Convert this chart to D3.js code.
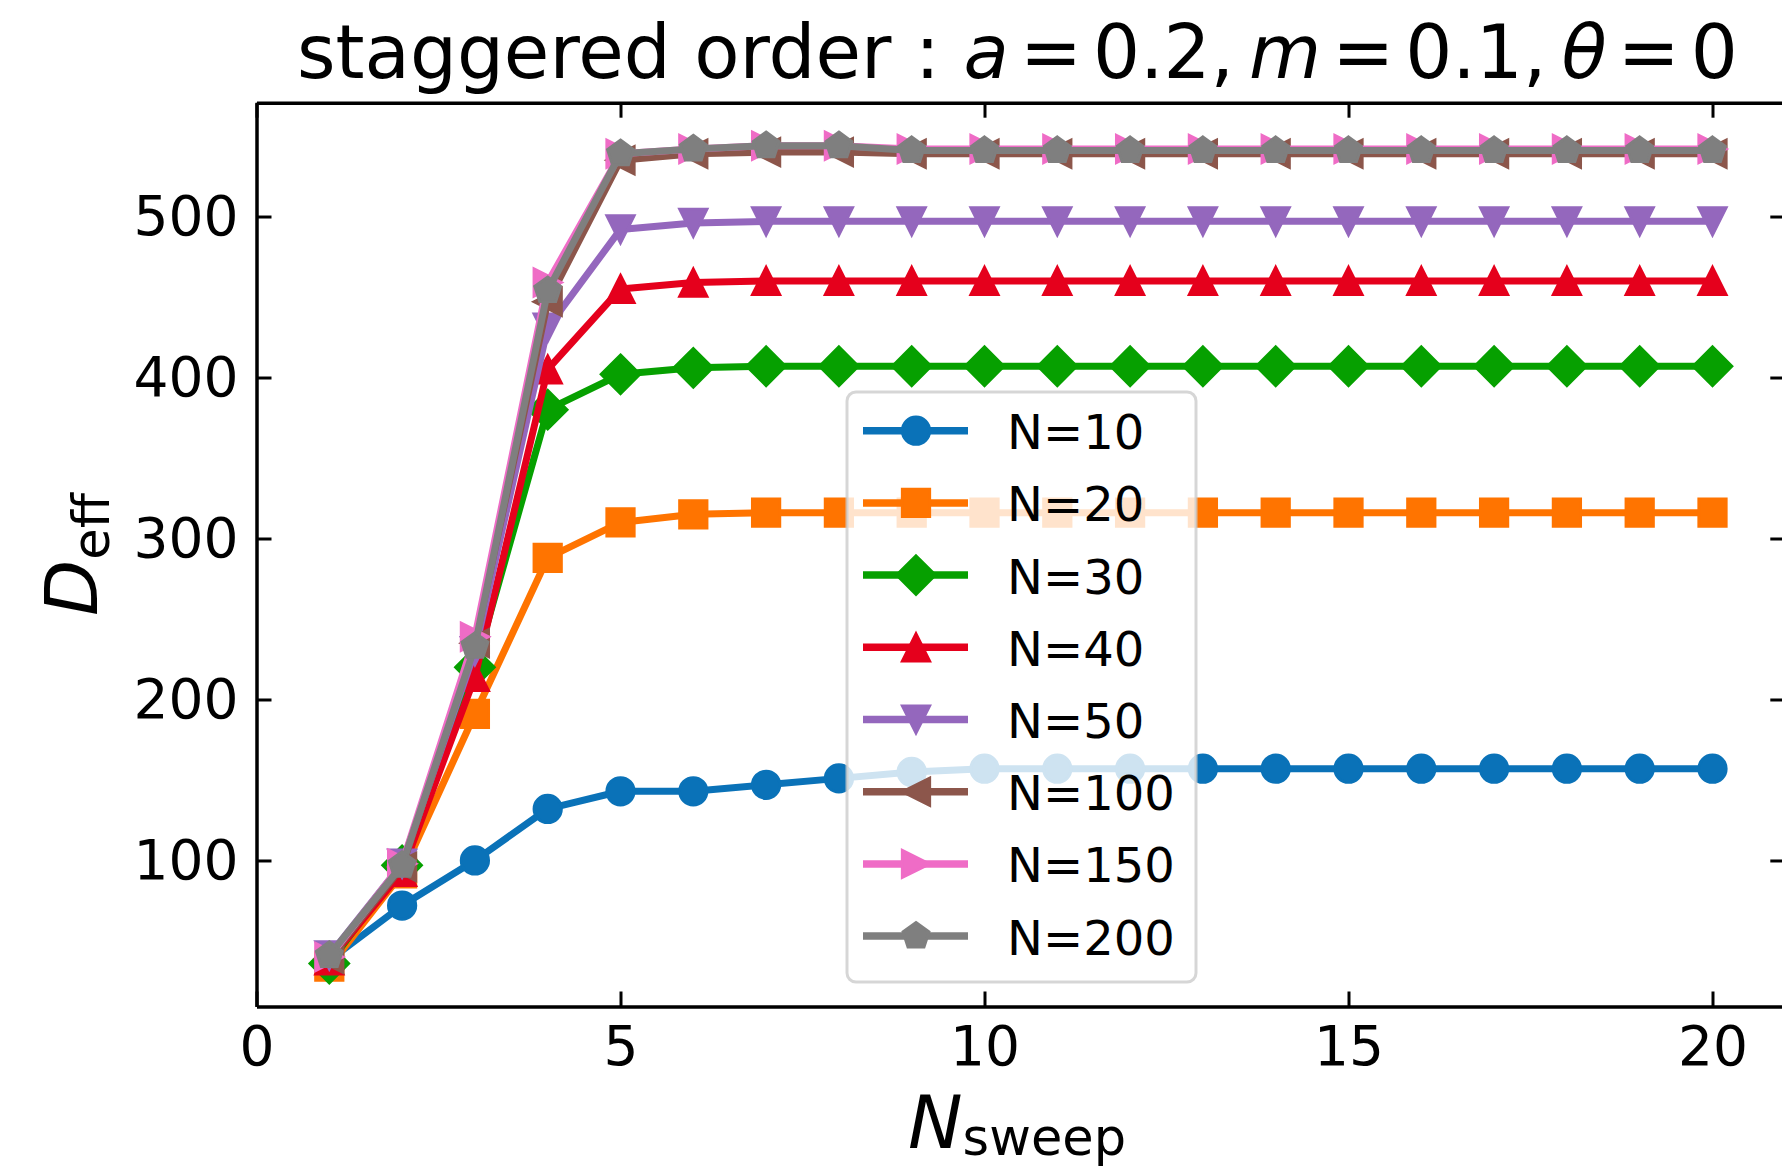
<!DOCTYPE html>
<html>
<head>
<meta charset="utf-8">
<script src="https://cdn.jsdelivr.net/npm/d3@7"></script>
<style>
  body { margin: 0; background: #fff; }
  svg { display: block; font-family: "DejaVu Sans", sans-serif; }
</style>
</head>
<body>
<div id="chart"></div>
<script>
// N_sweep values
const sweeps = d3.range(1, 21);

// D_eff for each system size
const n10  = [38, 72, 100, 132, 143, 143, 147, 151, 155, 157, 157, 157, 157, 157, 157, 157, 157, 157, 157, 157];
const n20  = [34, 92, 191, 288, 310, 315, 316, 316, 316, 316, 316, 316, 316, 316, 316, 316, 316, 316, 316, 316];
const n30  = [36, 97, 220, 380, 402, 406, 407, 407, 407, 407, 407, 407, 407, 407, 407, 407, 407, 407, 407, 407];
const n40  = [38, 93, 214, 405, 455, 459, 460, 460, 460, 460, 460, 460, 460, 460, 460, 460, 460, 460, 460, 460];
const n50  = [41, 98, 230, 431, 492, 496, 497, 497, 497, 497, 497, 497, 497, 497, 497, 497, 497, 497, 497, 497];
const n100 = [39, 96, 235, 447, 535, 539, 540, 540, 539, 539, 539, 539, 539, 539, 539, 539, 539, 539, 539, 539];
const n150 = [40, 98, 239, 459, 539, 542, 544, 544, 542, 542, 542, 542, 542, 542, 542, 542, 542, 542, 542, 542];
const n200 = [41, 97, 233, 454, 539, 542, 544, 544, 541, 541, 541, 541, 541, 541, 541, 541, 541, 541, 541, 541];

const labels  = ["N=10", "N=20", "N=30", "N=40", "N=50", "N=100", "N=150", "N=200"];
const colors  = ["#0a72b8", "#ff7400", "#06a000", "#e5001c", "#9467bd", "#8c564b", "#ef6cc6", "#7f7f7f"];
const markers = ["o", "s", "D", "^", "v", "<", ">", "p"];
const values  = [n10, n20, n30, n40, n50, n100, n150, n200];

const xTicks = [0, 5, 10, 15, 20];
const yTicks = [100, 200, 300, 400, 500];

const width = 1782, height = 1170;
const plotL = 256.5, plotT = 102.7, plotR = 1785.3, plotB = 1006.5;

const x = d3.scaleLinear().domain([0, 21]).range([plotL, plotR]);
const y = d3.scaleLinear().domain([9.3, 570.7]).range([plotB, plotT]);

// matplotlib-like marker outlines, s = marker size in px
function markerPath(type, s) {
  const h = s / 2;
  if (type === "o") {
    const p = d3.path();
    p.arc(0, 0, h, 0, 2 * Math.PI);
    return p.toString();
  }
  if (type === "s") return `M${-h},${-h}L${h},${-h}L${h},${h}L${-h},${h}Z`;
  if (type === "D") { const d = s * Math.SQRT1_2; return `M0,${-d}L${d},0L0,${d}L${-d},0Z`; }
  if (type === "^") return `M0,${-h}L${h},${h}L${-h},${h}Z`;
  if (type === "v") return `M0,${h}L${h},${-h}L${-h},${-h}Z`;
  if (type === "<") return `M${-h},0L${h},${-h}L${h},${h}Z`;
  if (type === ">") return `M${h},0L${-h},${-h}L${-h},${h}Z`;
  if (type === "p") {
    const pts = d3.range(5).map(k => {
      const a = -Math.PI / 2 + k * 2 * Math.PI / 5;
      return [h * Math.cos(a), h * Math.sin(a)];
    });
    return "M" + pts.map(p => p.join(",")).join("L") + "Z";
  }
}

const svg = d3.select("#chart").append("svg")
  .attr("width", width)
  .attr("height", height);

svg.append("rect").attr("width", width).attr("height", height).attr("fill", "#fff");

// series
const line = d3.line().x(d => x(d[0])).y(d => y(d[1]));
const msize = 27.5;

values.forEach((vals, i) => {
  const pts = sweeps.map((s, j) => [s, vals[j]]);
  const g = svg.append("g");
  g.append("path")
    .datum(pts)
    .attr("d", line)
    .attr("fill", "none")
    .attr("stroke", colors[i])
    .attr("stroke-width", 7)
    .attr("stroke-linejoin", "round");
  g.selectAll("path.m")
    .data(pts)
    .enter().append("path")
    .attr("class", "m")
    .attr("transform", d => `translate(${x(d[0])},${y(d[1])})`)
    .attr("d", markerPath(markers[i], msize))
    .attr("fill", colors[i])
    .attr("stroke", colors[i])
    .attr("stroke-width", 2.75)
    .attr("stroke-linejoin", "miter");
});

// axes, ticks pointing inward on all four sides
function styleAxis(g) {
  g.select(".domain").attr("stroke", "#000").attr("stroke-width", 3.5);
  g.selectAll(".tick line").attr("stroke", "#000").attr("stroke-width", 3);
  g.selectAll(".tick text").attr("fill", "#000").attr("font-size", 55).attr("font-family", "DejaVu Sans");
}

svg.append("g")
  .attr("transform", `translate(0,${plotB})`)
  .call(d3.axisBottom(x).tickValues(xTicks).tickSize(-15).tickSizeOuter(0).tickPadding(19))
  .call(styleAxis);

svg.append("g")
  .attr("transform", `translate(0,${plotT})`)
  .call(d3.axisTop(x).tickValues(xTicks).tickSize(-15).tickSizeOuter(0).tickFormat(""))
  .call(styleAxis);

svg.append("g")
  .attr("transform", `translate(${plotL},0)`)
  .call(d3.axisLeft(y).tickValues(yTicks).tickSize(-15).tickSizeOuter(0).tickPadding(18))
  .call(styleAxis);

svg.append("g")
  .attr("transform", `translate(${plotR},0)`)
  .call(d3.axisRight(y).tickValues(yTicks).tickSize(-15).tickSizeOuter(0).tickFormat(""))
  .call(styleAxis);

// legend
const leg = svg.append("g");
leg.append("rect")
  .attr("x", 847).attr("y", 392)
  .attr("width", 349).attr("height", 590)
  .attr("rx", 9)
  .attr("fill", "#fff").attr("fill-opacity", 0.8)
  .attr("stroke", "#cccccc").attr("stroke-opacity", 0.8)
  .attr("stroke-width", 3);

labels.forEach((lab, i) => {
  const ly = 430.7 + i * 72.2;
  leg.append("line")
    .attr("x1", 863).attr("x2", 968)
    .attr("y1", ly).attr("y2", ly)
    .attr("stroke", colors[i]).attr("stroke-width", 7.5);
  leg.append("path")
    .attr("transform", `translate(916,${ly})`)
    .attr("d", markerPath(markers[i], msize))
    .attr("fill", colors[i])
    .attr("stroke", colors[i])
    .attr("stroke-width", 2.75);
  leg.append("text")
    .attr("x", 1007).attr("y", ly + 18.5)
    .attr("font-size", 48)
    .text(lab);
});

// title, math part with tight mathtext-like spacing
const title = svg.append("text")
  .attr("x", 297)
  .attr("y", 78)
  .attr("font-size", 74);
const gap = 11;
title.append("tspan").text("staggered order : ");
title.append("tspan").attr("font-style", "italic").text("a");
title.append("tspan").attr("dx", gap).text("=");
title.append("tspan").attr("dx", gap).text("0.2,");
title.append("tspan").attr("dx", gap + 4).attr("font-style", "italic").text("m");
title.append("tspan").attr("dx", gap).text("=");
title.append("tspan").attr("dx", gap).text("0.1,");
title.append("tspan").attr("dx", gap + 4).attr("font-style", "italic").text("θ");
title.append("tspan").attr("dx", gap).text("=");
title.append("tspan").attr("dx", gap).text("0");

// x label
const xl = svg.append("text")
  .attr("x", 1017)
  .attr("y", 1148)
  .attr("text-anchor", "middle")
  .attr("font-size", 73);
xl.append("tspan").attr("font-style", "italic").text("N");
xl.append("tspan").attr("font-size", 51).attr("dy", 7).text("sweep");

// y label
const yl = svg.append("text")
  .attr("transform", `translate(97,${(plotT + plotB) / 2}) rotate(-90)`)
  .attr("text-anchor", "middle")
  .attr("font-size", 73);
yl.append("tspan").attr("font-style", "italic").text("D");
yl.append("tspan").attr("font-size", 51).attr("dy", 12).text("eff");
</script>
</body>
</html>
